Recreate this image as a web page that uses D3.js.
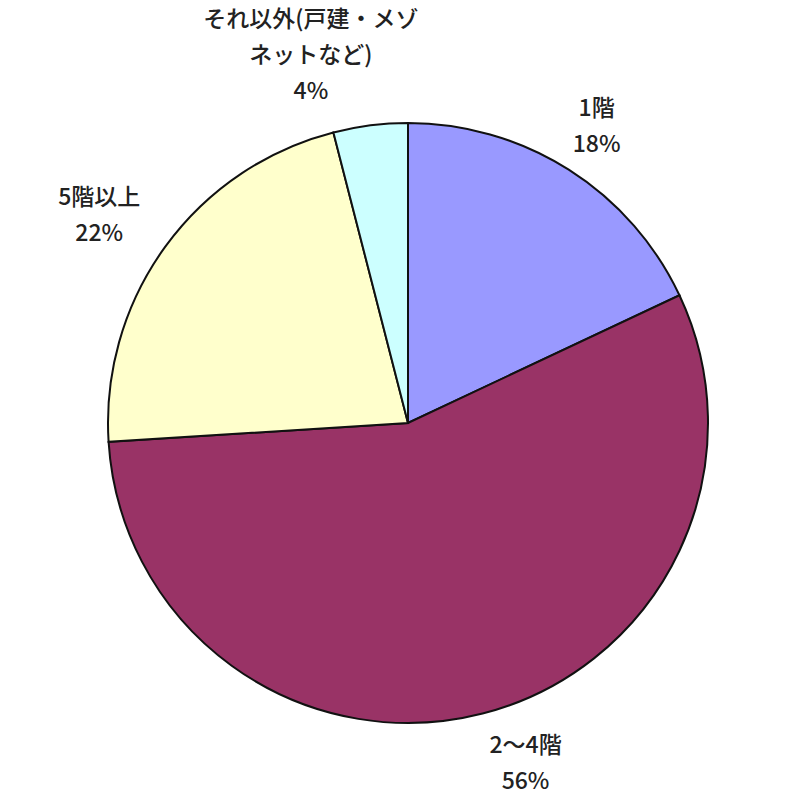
<!DOCTYPE html>
<html>
<head>
<meta charset="utf-8">
<script src="https://cdn.jsdelivr.net/npm/d3@7"></script>
<style>
body { margin: 0; background: #fff; }
text { font-family: "Noto Sans CJK JP", sans-serif; fill: #222; }
</style>
</head>
<body>
<script>
// Data

const labels = ["1階", "2～4階", "5階以上", "それ以外(戸建・メゾネットなど)"];
const labelLines = [["1階"], ["2～4階"], ["5階以上"], ["それ以外(戸建・メゾ", "ネットなど)"]];
const values = [18, 56, 22, 4];
const colors = ["#9999FF", "#993366", "#FFFFCC", "#CCFFFF"];

// Set Dimensions

const size = 800;
const cx = 408, cy = 423;
const radius = 300;
const labelRadius = 352;
// small nudges so labels sit where the original put them
const nudge = [[0, 0], [30, -1], [-24, -1], [-53, -19]];

const svg = d3.select("body")
 .append("svg")
 .attr("width", size)
 .attr("height", size)
 .append("g")
 .attr("transform", "translate(" + cx + "," + cy + ")");

const data = values.map((v, i) => ({ value: v, label: labels[i], lines: labelLines[i], color: colors[i] }));

const pie = d3.pie().sort(null).value(d => d.value);
const arc = d3.arc().innerRadius(0).outerRadius(radius);
const labelArc = d3.arc().innerRadius(labelRadius).outerRadius(labelRadius);

const arcs = pie(data);

svg.selectAll("path")
 .data(arcs)
 .join("path")
 .attr("d", arc)
 .attr("fill", d => d.data.color)
 .attr("stroke", "#111")
 .attr("stroke-width", 2);

// Labels

const lineH = 36;
const labelG = svg.selectAll("g.label")
 .data(arcs)
 .join("g")
 .attr("class", "label")
 .attr("transform", (d, i) => {
   const c = labelArc.centroid(d);
   return "translate(" + (c[0] + nudge[i][0]) + "," + (c[1] + nudge[i][1]) + ")";
 });

labelG.each(function(d) {
  const lines = d.data.lines.concat([d.data.value + "%"]);
  const g = d3.select(this);
  const top = -(lines.length - 1) * lineH / 2;
  lines.forEach((t, j) => {
    g.append("text")
     .attr("x", 0)
     .attr("y", top + j * lineH)
     .attr("dy", "0.35em")
     .attr("text-anchor", "middle")
     .attr("font-size", 23)
     .attr("font-weight", 500)
     .text(t);
  });
});
</script>
</body>
</html>
